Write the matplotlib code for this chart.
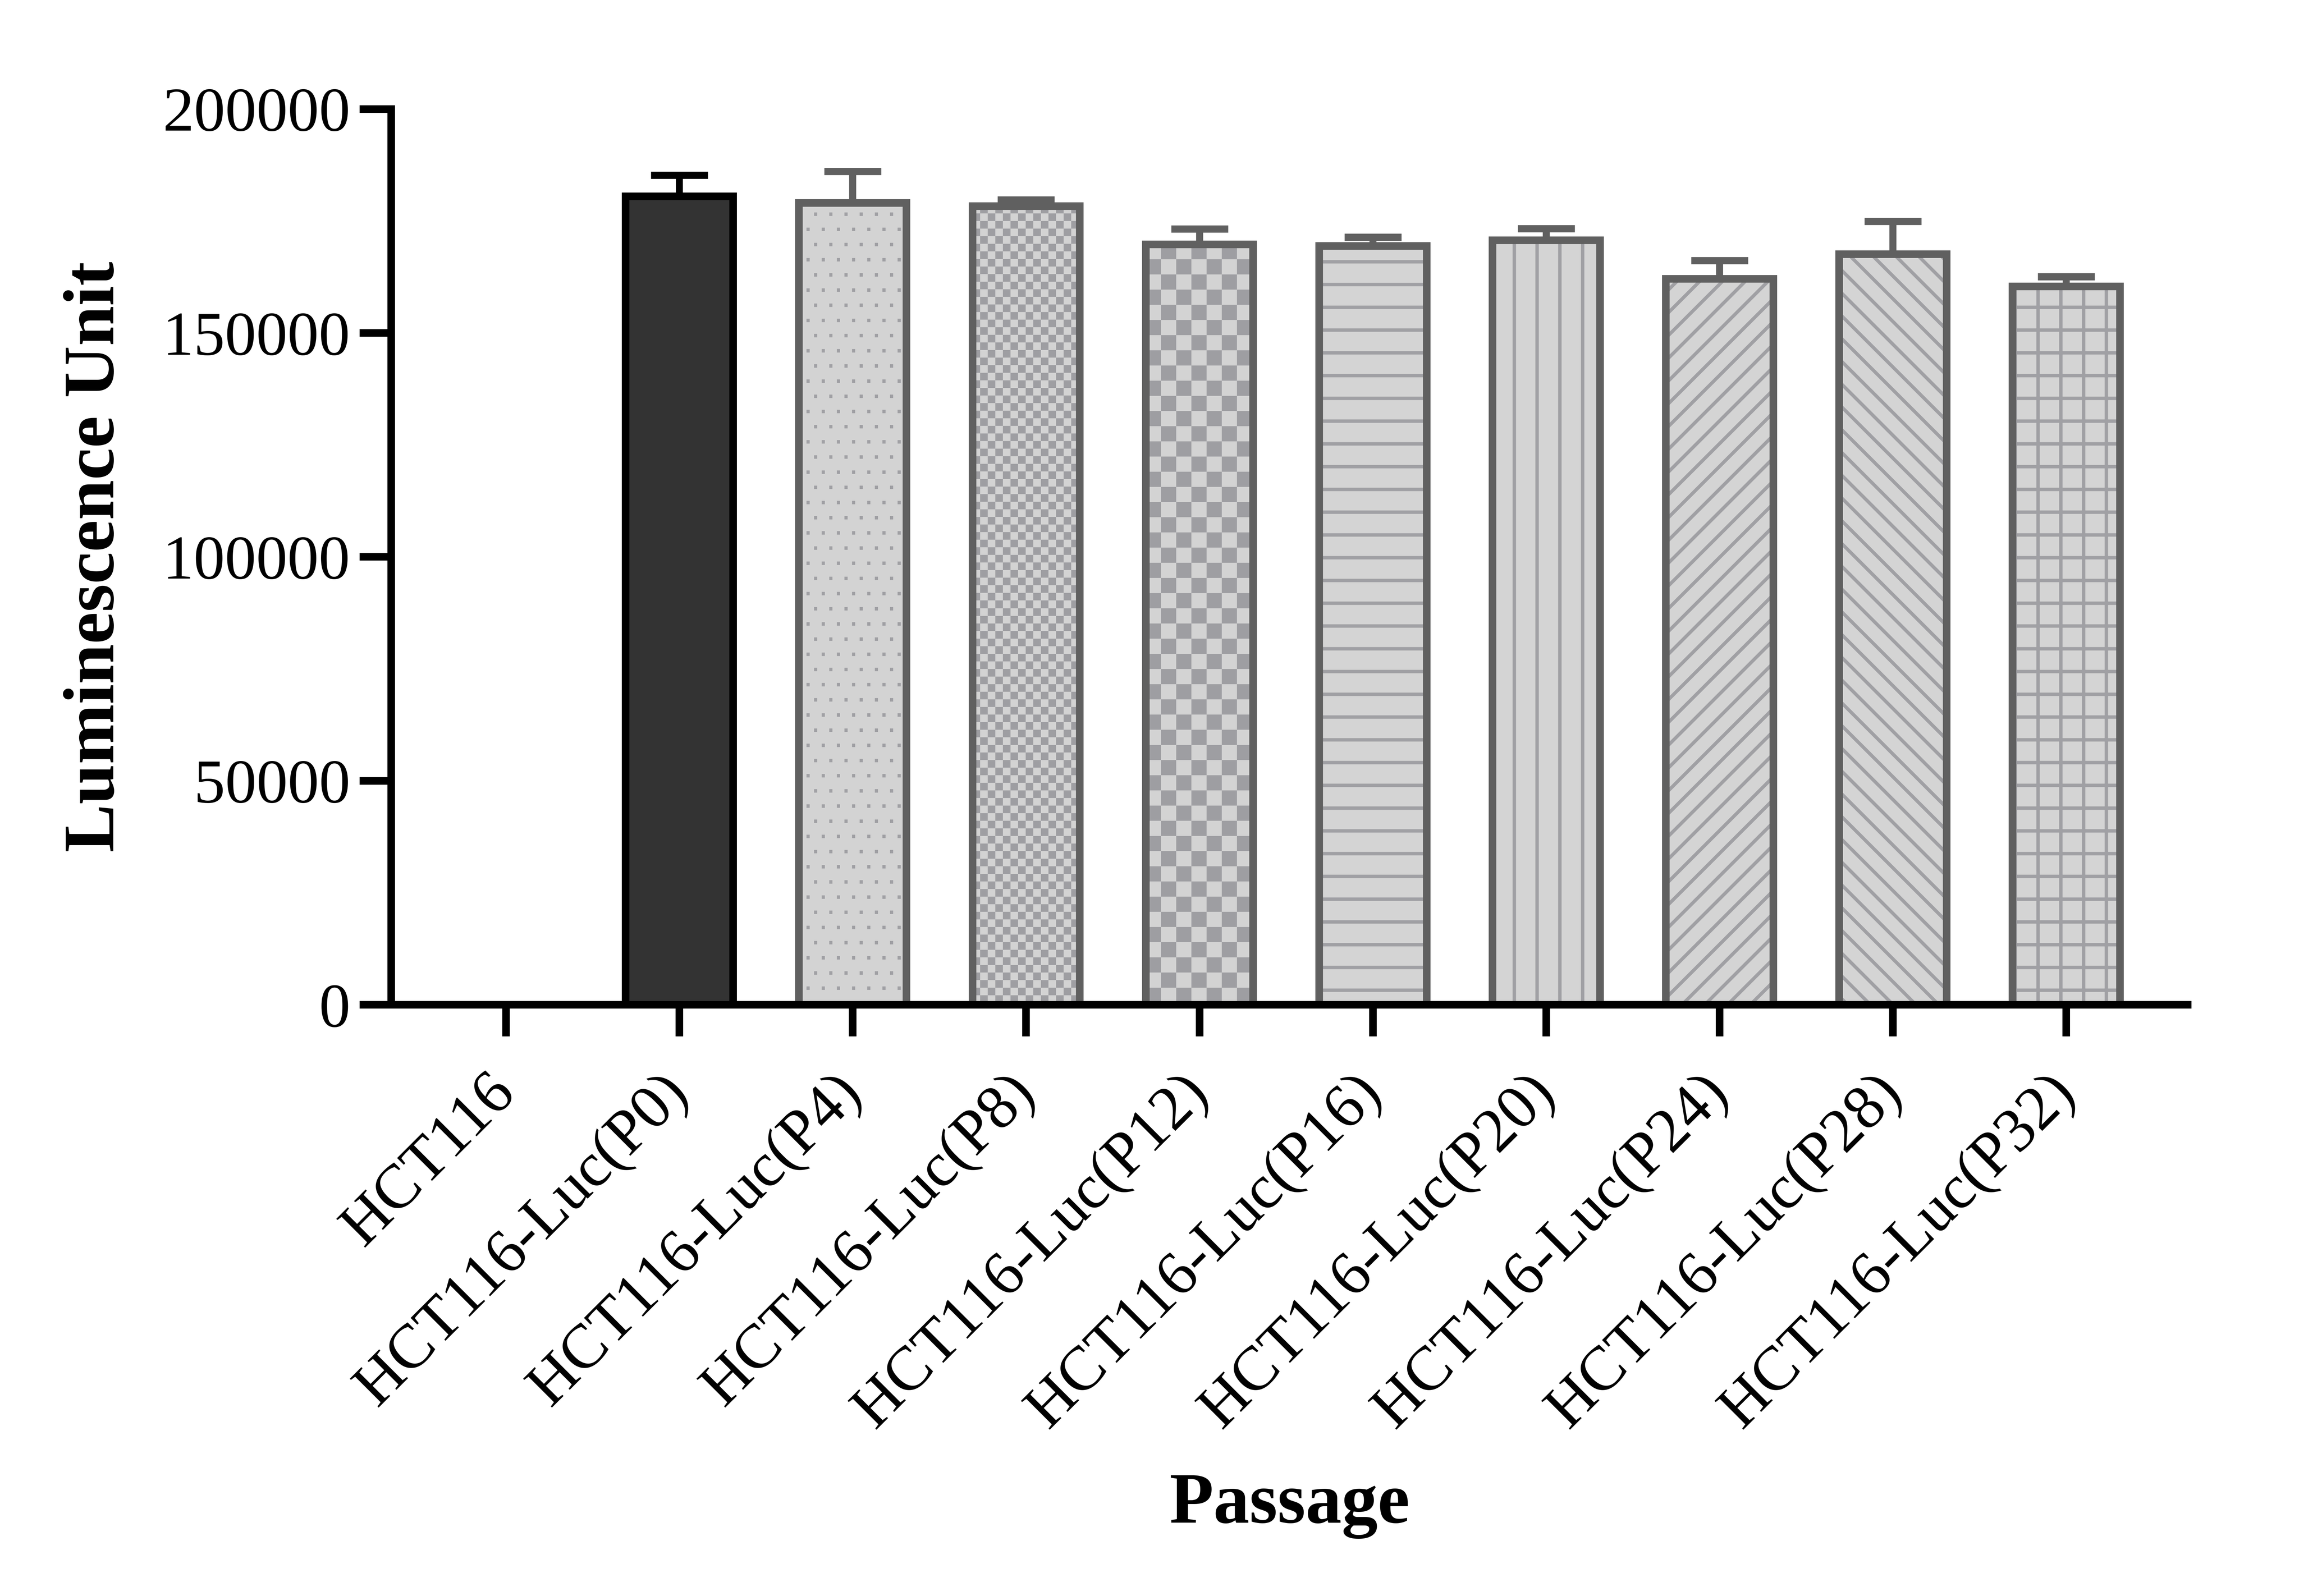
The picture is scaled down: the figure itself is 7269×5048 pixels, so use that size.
import numpy as np
import matplotlib
matplotlib.use("Agg")
import matplotlib.pyplot as plt
from matplotlib.colors import to_rgb

# values
labels = ["HCT116", "HCT116-Luc(P0)", "HCT116-Luc(P4)", "HCT116-Luc(P8)",
          "HCT116-Luc(P12)", "HCT116-Luc(P16)", "HCT116-Luc(P20)",
          "HCT116-Luc(P24)", "HCT116-Luc(P28)", "HCT116-Luc(P32)"]
means = [0, 180500, 179000, 178300, 169800, 169400, 170700, 162100, 167600, 160400]
errors = [0, 4700, 7100, 1400, 3400, 2000, 2600, 4100, 7300, 2200]
yticks = [0, 50000, 100000, 150000, 200000]

# styles per bar
fills = ["#d4d4d4", "#333333"] + ["#d4d4d4"] * 8
edges = ["#606060", "#000000"] + ["#606060"] * 8
patterns = [None, None, "dots", "fine", "checker", "-", "|", "//", "\\\\", "+"]
HATCH = "#a0a0a4"
LIGHT = "#d3d3d3"
DARK = "#9e9ea2"

plt.rcParams["font.family"] = ["Liberation Serif", "DejaVu Serif"]
plt.rcParams["hatch.linewidth"] = 1.8

DPI = 432
fig = plt.figure(figsize=(7270 / DPI, 5048 / DPI), dpi=DPI)
AX_RECT = [0.1702, 0.3704, 0.7812, 0.5613]
ax = fig.add_axes(AX_RECT)
XMIN, XMAX, YMAX = -0.662, 9.70, 200000
W = 0.62

# pixel scale, used to size the image textures 1:1 with output pixels
px_x = 7270 * AX_RECT[2] / (XMAX - XMIN)
px_y = 5048 * AX_RECT[3] / YMAX


def texture(kind, nx, ny):
    r, c = np.mgrid[0:ny, 0:nx]
    if kind == "dots":
        row = r // 48
        mask = ((r % 48) >= 30) & ((r % 48) < 41) & (((c + 24 * (row % 2)) % 48) < 10)
        lo, hi = LIGHT, HATCH
    elif kind == "fine":
        mask = ((r // 24) + (c // 24)) % 2 == 1
        lo, hi = LIGHT, DARK
    else:
        mask = ((r // 48) + (c // 48)) % 2 == 1
        lo, hi = LIGHT, DARK
    img = np.empty((ny, nx, 3))
    img[:] = to_rgb(lo)
    img[mask] = to_rgb(hi)
    return img


x = np.arange(len(labels))

fill_bars = ax.bar(x, means, width=W, color=fills, edgecolor=HATCH, linewidth=0, zorder=2)
for bar, pat in zip(fill_bars, patterns):
    if pat in ("-", "|", "//", "\\\\", "+"):
        bar.set_hatch(pat)

for i, pat in enumerate(patterns):
    if pat in ("dots", "fine", "checker") and means[i] > 0:
        nx = int(round(W * px_x))
        ny = int(round(means[i] * px_y))
        ax.imshow(texture(pat, nx, ny), extent=(i - W / 2, i + W / 2, 0, means[i]),
                  aspect="auto", interpolation="nearest", zorder=2.1)

ax.bar(x, means, width=W, facecolor="none", edgecolor=edges, linewidth=4, zorder=2.2)

for i in range(len(labels)):
    if means[i] > 0:
        ax.errorbar(x[i], means[i], yerr=[[0], [errors[i]]], fmt="none",
                    ecolor=edges[i], elinewidth=3.7, capsize=15, capthick=3.8, zorder=2.3)

ax.set_xlim(XMIN, XMAX)
ax.set_ylim(0, YMAX)
ax.spines["top"].set_visible(False)
ax.spines["right"].set_visible(False)
for s in ("left", "bottom"):
    ax.spines[s].set_linewidth(4)

ax.set_yticks(yticks, [str(v) for v in yticks])
ax.set_xticks(x, labels, rotation=45, ha="right", va="center", rotation_mode="anchor")
ax.tick_params(axis="both", width=4, length=16.7, direction="out", labelsize=33)
ax.tick_params(axis="y", pad=5)
ax.tick_params(axis="x", pad=25)

ax.set_ylabel("Luminescence Unit", fontsize=38, fontweight="bold", va="center")
ax.yaxis.set_label_coords(-0.1643, 0.5)
ax.set_xlabel("Passage", fontsize=38, fontweight="bold", va="baseline")
ax.xaxis.set_label_coords(0.5, -0.578)

fig.savefig("out.png", dpi=DPI)
